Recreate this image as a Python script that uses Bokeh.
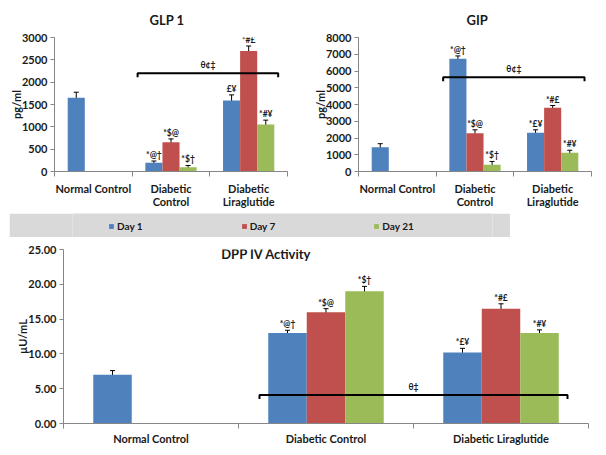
from bokeh.plotting import figure
from bokeh.models import (ColumnDataSource, Range1d, LinearAxis,
                          FixedTicker, Whisker, TeeHead, Legend, LegendItem, Label,
                          NumeralTickFormatter)
from bokeh.transform import dodge
from bokeh.layouts import column, row
from bokeh.embed import file_html
from bokeh.resources import INLINE
from bokeh.core.properties import value

# ---------------- data ----------------
groups_top = ["Normal Control", "Diabetic\nControl", "Diabetic\nLiraglutide"]
groups_dpp = ["Normal Control", "Diabetic Control", "Diabetic Liraglutide"]
days = ["Day 1", "Day 7", "Day 21"]
colors = ["#4F81BD", "#C0504D", "#9BBB59"]

glp1_day1 = [1650, 195, 1590]
glp1_day7 = [None, 655, 2700]
glp1_day21 = [None, 97, 1050]
glp1_err_day1 = [125, 40, 125]
glp1_err_day7 = [None, 75, 110]
glp1_err_day21 = [None, 38, 100]
glp1_sig_day1 = ["", "*@†", "£¥"]
glp1_sig_day7 = ["", "*$@", "*#£"]
glp1_sig_day21 = ["", "*$†", "*#¥"]
glp1_yticks = [0, 500, 1000, 1500, 2000, 2500, 3000]

gip_day1 = [1450, 6730, 2310]
gip_day7 = [None, 2290, 3800]
gip_day21 = [None, 400, 1120]
gip_err_day1 = [210, 170, 180]
gip_err_day7 = [None, 200, 140]
gip_err_day21 = [None, 200, 150]
gip_sig_day1 = ["", "*@†", "*£¥"]
gip_sig_day7 = ["", "*$@", "*#£"]
gip_sig_day21 = ["", "*$†", "*#¥"]
gip_yticks = [0, 1000, 2000, 3000, 4000, 5000, 6000, 7000, 8000]

dpp_day1 = [7.0, 13.0, 10.2]
dpp_day7 = [None, 16.0, 16.5]
dpp_day21 = [None, 19.0, 13.0]
dpp_err_day1 = [0.6, 0.4, 0.6]
dpp_err_day7 = [None, 0.5, 0.7]
dpp_err_day21 = [None, 0.7, 0.45]
dpp_sig_day1 = ["", "*@†", "*£¥"]
dpp_sig_day7 = ["", "*$@", "*#£"]
dpp_sig_day21 = ["", "*$†", "*#¥"]
dpp_yticks = [0, 5, 10, 15, 20, 25]

# significance brackets (y level, span in category units, label)
glp1_bracket_y, glp1_bracket_span, glp1_bracket_label, glp1_bracket_label_y = 2200, (1.07, 2.88), "θ¢‡", 2390
gip_bracket_y, gip_bracket_span, gip_bracket_label, gip_bracket_label_y = 5630, (1.09, 2.91), "θ¢‡", 6130
dpp_bracket_y, dpp_bracket_span, dpp_bracket_label, dpp_bracket_label_y = 4.1, (1.12, 2.88), "θ‡", 5.2

FONT = "Lato"
AXIS_COLOR = "#868686"
TEXT_COLOR = "#1a1a1a"
BAND_COLOR = "#D9D9D9"
OFFSETS = [-0.22, 0.0, 0.22]
BAR_W = 0.22


def make_chart(factors, series, errs, sigs, ymax, yticks, ylabel, fmt, width, height,
               borders, bracket, label_standoff):
    left, right, top, bottom = borders
    n = len(factors)
    centers = [i + 0.5 for i in range(n)]
    p = figure(x_range=Range1d(0, n), y_range=Range1d(0, ymax),
               width=width, height=height, output_backend="svg", toolbar_location=None,
               tools="", x_axis_location=None,
               min_border_left=left, min_border_right=right,
               min_border_top=top, min_border_bottom=bottom)
    p.outline_line_color = None
    p.grid.visible = False
    p.background_fill_color = "white"
    frame_h = height - top - bottom

    ya = p.yaxis[0]
    ya.ticker = FixedTicker(ticks=yticks)
    ya.formatter = NumeralTickFormatter(format=fmt)
    ya.axis_label = ylabel
    ya.axis_label_text_font = FONT
    ya.axis_label_text_font_size = "11px"
    ya.axis_label_text_font_style = "bold"
    ya.axis_label_text_color = TEXT_COLOR
    ya.axis_label_standoff = -4
    ya.major_label_text_font = FONT
    ya.major_label_text_font_size = "11px"
    ya.major_label_text_font_style = "bold"
    ya.major_label_text_color = TEXT_COLOR
    ya.major_label_standoff = 3
    ya.major_tick_in = 0
    ya.major_tick_out = 4
    ya.minor_tick_line_color = None
    ya.axis_line_color = AXIS_COLOR
    ya.major_tick_line_color = AXIS_COLOR

    # category axis: labels at centres, Excel-style tick marks at category edges
    cat_axis = LinearAxis(ticker=FixedTicker(ticks=centers, minor_ticks=list(range(n + 1))),
                          major_label_overrides={c: f for c, f in zip(centers, factors)},
                          axis_line_color=AXIS_COLOR, major_tick_line_color=None,
                          major_tick_in=0, major_tick_out=0,
                          minor_tick_line_color=AXIS_COLOR, minor_tick_in=0, minor_tick_out=5,
                          major_label_text_font=FONT, major_label_text_font_size="11px",
                          major_label_text_font_style="bold",
                          major_label_text_color=TEXT_COLOR,
                          major_label_text_line_height=1.05,
                          major_label_standoff=label_standoff)
    p.add_layout(cat_axis, "below")

    for vals, ers, sg, off, col in zip(series, errs, sigs, OFFSETS, colors):
        rows = [(c, v, e, s) for c, v, e, s in zip(centers, vals, ers, sg) if v is not None]
        src = ColumnDataSource(dict(
            xc=[r[0] for r in rows], top=[r[1] for r in rows],
            upper=[r[1] + r[2] for r in rows], lower=[r[1] - r[2] for r in rows],
            sig=[r[3] for r in rows]))
        x = dodge("xc", off)
        p.vbar(x=x, top="top", width=BAR_W, source=src, fill_color=col, line_color=None)
        w = Whisker(base=x, upper="upper", lower="lower", source=src,
                    line_color="black", line_width=1,
                    upper_head=TeeHead(size=5, line_color="black", line_width=1),
                    lower_head=TeeHead(size=5, line_color="black", line_width=1))
        p.add_layout(w)
        p.text(x=x, y="upper", text="sig", source=src, text_font=value(FONT),
               text_font_size="8.5px", text_font_style="bold", text_color=TEXT_COLOR,
               text_align="center", text_baseline="bottom", y_offset=-1)

    by, (bx0, bx1), blabel, bly = bracket
    drop = 4 * ymax / frame_h
    p.line(x=[bx0, bx0, bx1, bx1], y=[by - drop, by, by, by - drop],
           line_color="black", line_width=2)
    p.text(x=[(bx0 + bx1) / 2], y=[bly], text=[blabel], text_font=value(FONT),
           text_font_size="8.5px", text_font_style="bold", text_color=TEXT_COLOR,
           text_align="center", text_baseline="middle")
    return p


def set_title(p, text, offset):
    p.title.text = text
    p.title.align = "left"
    p.title.offset = offset
    p.title.vertical_align = "top"
    p.title.text_font = FONT
    p.title.text_font_size = "13px"
    p.title.text_font_style = "bold"
    p.title.text_color = TEXT_COLOR
    p.title.standoff = 16


p1 = make_chart(groups_top, [glp1_day1, glp1_day7, glp1_day21],
                [glp1_err_day1, glp1_err_day7, glp1_err_day21],
                [glp1_sig_day1, glp1_sig_day7, glp1_sig_day21],
                3000, glp1_yticks, "pg/ml", "0", 300, 213, (54, 13, 37, 42),
                (glp1_bracket_y, glp1_bracket_span, glp1_bracket_label, glp1_bracket_label_y), 5)
set_title(p1, "GLP 1", 95)

p2 = make_chart(groups_top, [gip_day1, gip_day7, gip_day21],
                [gip_err_day1, gip_err_day7, gip_err_day21],
                [gip_sig_day1, gip_sig_day7, gip_sig_day21],
                8000, gip_yticks, "pg/ml", "0", 306, 213, (58, 15, 37, 42),
                (gip_bracket_y, gip_bracket_span, gip_bracket_label, gip_bracket_label_y), 5)
set_title(p2, "GIP", 108)

p3 = make_chart(groups_dpp, [dpp_day1, dpp_day7, dpp_day21],
                [dpp_err_day1, dpp_err_day7, dpp_err_day21],
                [dpp_sig_day1, dpp_sig_day7, dpp_sig_day21],
                25, dpp_yticks, "µU/mL", "0.00", 606, 218, (63, 18, 12, 32),
                (dpp_bracket_y, dpp_bracket_span, dpp_bracket_label, dpp_bracket_label_y), 3)
p3.add_layout(Label(x=1.16, y=24.4, text="DPP IV Activity", text_font=FONT,
                    text_font_size="13px", text_font_style="bold", text_color=TEXT_COLOR,
                    text_align="center", text_baseline="middle"))

# legend band
leg = figure(width=501, height=24, x_range=Range1d(0, 1), y_range=Range1d(0, 1),
             output_backend="svg", toolbar_location=None, tools="",
             x_axis_location=None, y_axis_location=None,
             min_border_left=54, min_border_right=0, min_border_top=0, min_border_bottom=0)
leg.margin = (0, 0, 0, 9)
leg.background_fill_color = BAND_COLOR
leg.border_fill_color = BAND_COLOR
leg.outline_line_color = None
leg.grid.visible = False
rends = [leg.vbar(x=[float("nan")], top=[float("nan")], width=0.1,
                  fill_color=c, line_color=None) for c in colors]
legend = Legend(items=[LegendItem(label=d, renderers=[r]) for d, r in zip(days, rends)],
                orientation="horizontal", location=(36, 5), padding=0, margin=0,
                spacing=98, glyph_width=6, glyph_height=6, label_standoff=3,
                label_text_font=FONT, label_text_font_size="10px",
                label_text_font_style="bold", label_text_color=TEXT_COLOR,
                label_height=12, background_fill_alpha=0, border_line_color=None)
leg.add_layout(legend)

layout = column(row(p1, p2), leg, p3)
open("out.html", "w").write(file_html(layout, INLINE))
